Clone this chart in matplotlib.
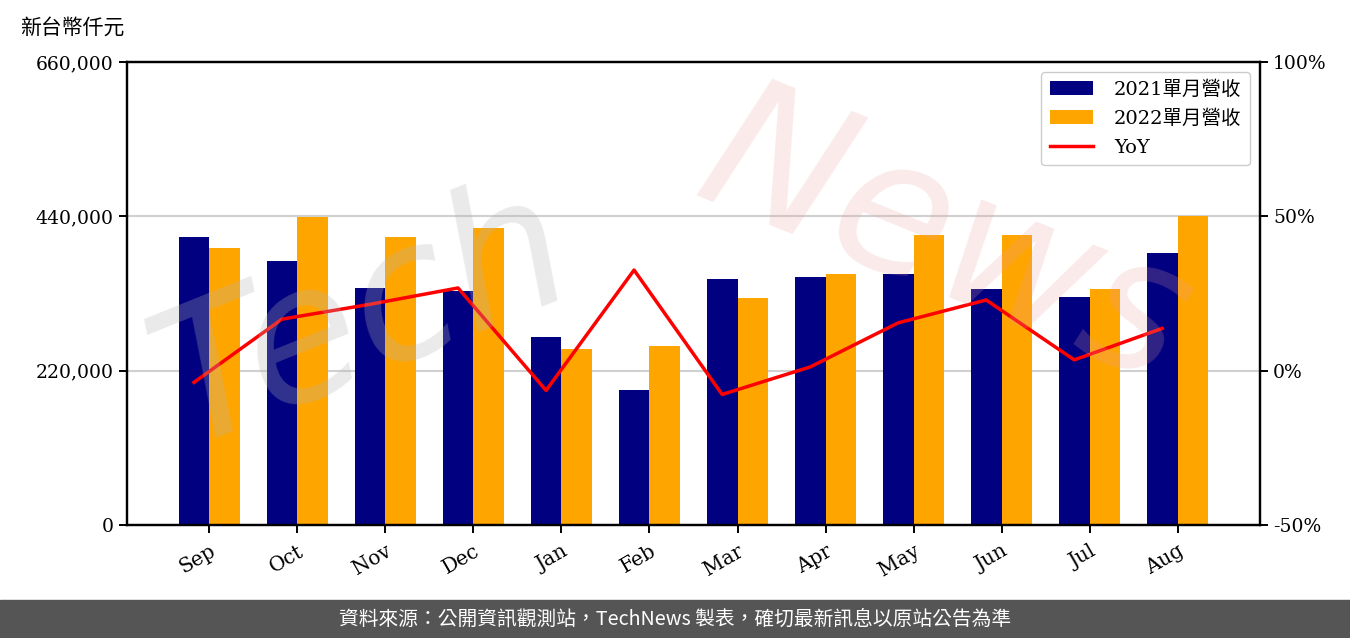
import numpy as np
import matplotlib
matplotlib.use('Agg')
import matplotlib.pyplot as plt
from matplotlib.ticker import FuncFormatter

plt.rcParams['font.family'] = ['DejaVu Serif', 'Noto Sans CJK TC']

# data
months = ['Sep', 'Oct', 'Nov', 'Dec', 'Jan', 'Feb', 'Mar', 'Apr', 'May', 'Jun', 'Jul', 'Aug']
rev_2021 = [410500, 376300, 337800, 334000, 268000, 192400, 350700, 353500, 357800, 336400, 325000, 387700]
rev_2022 = [394900, 439000, 410500, 423400, 250900, 255200, 323600, 357800, 413400, 413400, 336400, 441000]
yoy = [-3.8, 16.7, 21.5, 26.8, -6.4, 32.6, -7.7, 1.2, 15.5, 22.9, 3.5, 13.7]

x = np.arange(len(months))
w = 0.35

fig = plt.figure(figsize=(13.5, 6.38), dpi=100)
ax = fig.add_axes([0.0941, 0.1771, 0.8392, 0.7257])
ax2 = ax.twinx()

ax.set_axisbelow(True)
ax.yaxis.grid(True, color='#d0d0d0', linewidth=1.5)

b1 = ax.bar(x - w / 2, rev_2021, w, color='#000080', label='2021單月營收')
b2 = ax.bar(x + w / 2, rev_2022, w, color='#FFA500', label='2022單月營收')
ln, = ax2.plot(x - w / 2, yoy, color='#FF0000', linewidth=2.5, label='YoY')

ax.set_ylim(0, 660000)
ax.set_yticks([0, 220000, 440000, 660000])
ax.yaxis.set_major_formatter(FuncFormatter(lambda v, p: f'{int(v):,}'))
ax2.set_ylim(-50, 100)
ax2.set_yticks([-50, 0, 50, 100])
ax2.yaxis.set_major_formatter(FuncFormatter(lambda v, p: f'{int(v)}%'))

ax.set_xticks(x)
ax.set_xticklabels(months, rotation=30, ha='right', rotation_mode='anchor')

for a in (ax, ax2):
    for s in a.spines.values():
        s.set_linewidth(1.6)
    a.tick_params(labelsize=13.5, width=1.4, length=6)
ax.tick_params(axis='x', pad=6, labelsize=14.5)

# watermark
fig.text(0.27, 0.50, 'Tech', fontsize=135, style='italic', color='#b5b5b5', alpha=0.28,
         rotation=22, ha='center', va='center', family='DejaVu Sans')
fig.text(0.70, 0.62, 'News', fontsize=135, style='italic', color='#e8a0a0', alpha=0.22,
         rotation=-22, ha='center', va='center', family='DejaVu Sans')

leg = ax2.legend([b1, b2, ln], ['2021單月營收', '2022單月營收', 'YoY'], loc='upper right',
                 fontsize=14, framealpha=1, edgecolor='#cccccc', borderpad=0.45,
                 handlelength=2.2, handletextpad=1.1, labelspacing=0.55)

fig.text(0.015, 0.957, '新台幣仟元', fontsize=15, ha='left', va='center')

# footer band
fig.patches.append(plt.Rectangle((0, 0), 1, 38 / 638, transform=fig.transFigure,
                                 color='#555555', zorder=0))
fig.text(0.5, 19 / 638, '資料來源：公開資訊觀測站，TechNews 製表，確切最新訊息以原站公告為準',
         fontsize=14.2, color='white', ha='center', va='center',
         family=['Noto Sans CJK TC', 'DejaVu Sans'])

fig.savefig('out.png', dpi=100)
